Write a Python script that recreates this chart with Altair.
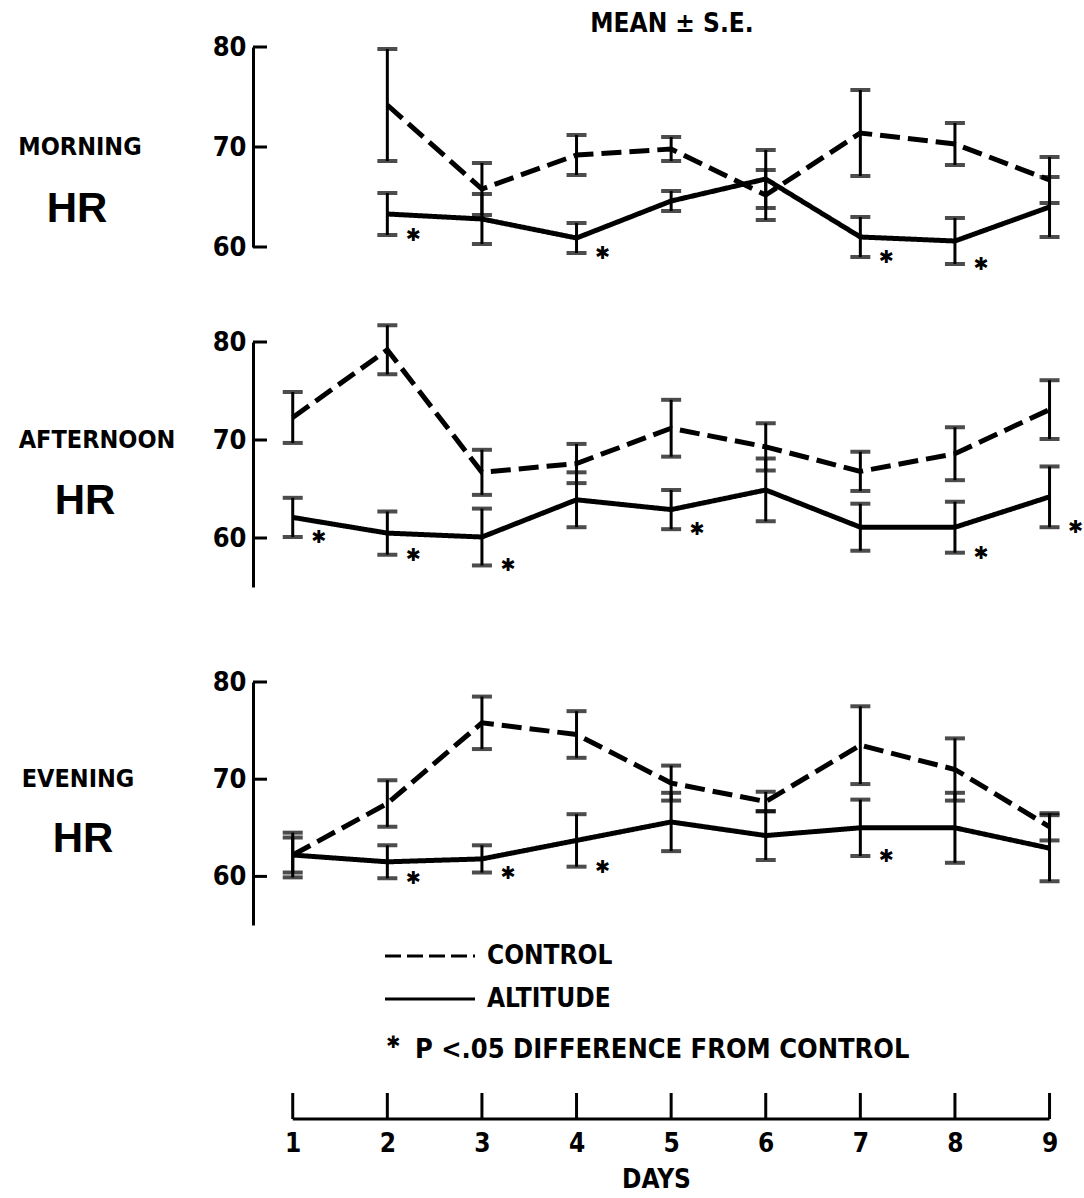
import altair as alt
import pandas as pd

days = [1, 2, 3, 4, 5, 6, 7, 8, 9]
series_names = ["CONTROL", "ALTITUDE"]
y_ticks = [60, 70, 80]

# MORNING
morning_control_mean = [None, 74.2, 65.8, 69.2, 69.8, 65.2, 71.4, 70.3, 66.7]
morning_control_se = [None, 5.6, 2.6, 2.0, 1.2, 2.5, 4.3, 2.1, 2.3]
morning_altitude_mean = [None, 63.3, 62.8, 60.9, 64.6, 66.8, 61.0, 60.6, 64.0]
morning_altitude_se = [None, 2.1, 2.5, 1.5, 1.0, 2.9, 2.0, 2.3, 3.0]
morning_sig_days = [2, 4, 7, 8]

# AFTERNOON
afternoon_control_mean = [72.3, 79.2, 66.7, 67.6, 71.2, 69.3, 66.8, 68.6, 73.1]
afternoon_control_se = [2.6, 2.5, 2.3, 2.0, 2.9, 2.4, 2.0, 2.7, 3.0]
afternoon_altitude_mean = [62.1, 60.5, 60.1, 63.9, 62.9, 64.9, 61.1, 61.1, 64.2]
afternoon_altitude_se = [2.0, 2.2, 2.9, 2.8, 2.0, 3.2, 2.4, 2.6, 3.1]
afternoon_sig_days = [1, 2, 3, 5, 8, 9]

# EVENING
evening_control_mean = [62.2, 67.5, 75.8, 74.6, 69.6, 67.7, 73.5, 71.0, 65.1]
evening_control_se = [2.3, 2.4, 2.7, 2.4, 1.8, 1.0, 4.0, 3.2, 1.4]
evening_altitude_mean = [62.2, 61.5, 61.8, 63.7, 65.6, 64.2, 65.0, 65.0, 62.9]
evening_altitude_se = [1.8, 1.7, 1.4, 2.7, 3.0, 2.5, 2.9, 3.6, 3.4]
evening_sig_days = [2, 3, 4, 7]

legend_labels = ["CONTROL", "ALTITUDE", "P <.05 DIFFERENCE FROM CONTROL"]

COND = "DejaVu Sans Condensed, DejaVu Sans, sans-serif"
ARIAL = "Liberation Sans, Arial, sans-serif"
STAR = "✱"
W = 806
X_DOMAIN = [0.58, 9.1]
xscale = alt.Scale(domain=X_DOMAIN, nice=False, zero=False)


def panel(name, cm, cs, am, a_se, sig, ymin, height, name_x, hr_x, extra=None):
    rows = []
    for sname, m, s in [("CONTROL", cm, cs), ("ALTITUDE", am, a_se)]:
        for d, mv, sv in zip(days, m, s):
            if mv is None:
                continue
            rows.append(dict(day=d, series=sname, mean=mv, lo=mv - sv, hi=mv + sv))
    df = pd.DataFrame(rows)
    sig_df = df[(df.series == "ALTITUDE") & (df.day.isin(sig))]

    yscale = alt.Scale(domain=[ymin, 80], nice=False, zero=False)
    yaxis = alt.Axis(values=y_ticks, tickSize=0, domain=True, domainWidth=3,
                     domainColor="black", labelFont=COND, labelFontSize=27,
                     labelFontWeight="bold", labelColor="black", labelPadding=7,
                     grid=False, title=None)
    X = alt.X("day:Q", scale=xscale, axis=None)

    base = alt.Chart(df)
    lines = base.mark_line(color="black", strokeWidth=5).encode(
        x=X,
        y=alt.Y("mean:Q", scale=yscale, axis=yaxis),
        strokeDash=alt.StrokeDash("series:N",
                                  scale=alt.Scale(domain=series_names,
                                                  range=[[20, 8], [1, 0]]),
                                  legend=None),
        detail="series:N",
    )
    bars = base.mark_rule(color="black", strokeWidth=3).encode(
        x=X, y=alt.Y("lo:Q", scale=yscale, axis=yaxis), y2="hi:Q")
    cap_lo = base.mark_tick(color="black", thickness=4, size=20,
                            orient="horizontal").encode(
        x=X, y=alt.Y("lo:Q", scale=yscale, axis=yaxis))
    cap_hi = base.mark_tick(color="black", thickness=4, size=20,
                            orient="horizontal").encode(
        x=X, y=alt.Y("hi:Q", scale=yscale, axis=yaxis))
    stars = alt.Chart(sig_df).mark_text(text=STAR, dx=26, dy=1, fontSize=18,
                                        fontWeight="bold", baseline="middle",
                                        font="DejaVu Sans", color="black").encode(
        x=X, y=alt.Y("lo:Q", scale=yscale, axis=yaxis))
    ticks = alt.Chart(pd.DataFrame({"v": y_ticks})).mark_rule(
        color="black", strokeWidth=3).encode(
        y=alt.Y("v:Q", scale=yscale, axis=yaxis),
        x=alt.value(0), x2=alt.value(14))
    lab = alt.Chart(pd.DataFrame({"t": [name], "v": [70]})).mark_text(
        font=COND, fontSize=25, fontWeight="bold", color="black",
        align="center", baseline="middle").encode(
        x=alt.value(name_x), y=alt.Y("v:Q", scale=yscale, axis=yaxis), text="t:N")
    hr = alt.Chart(pd.DataFrame({"t": ["HR"], "v": [63.8]})).mark_text(
        font=ARIAL, fontSize=42, fontWeight="bold", color="black",
        align="center", baseline="middle").encode(
        x=alt.value(hr_x), y=alt.Y("v:Q", scale=yscale, axis=yaxis), text="t:N")
    layers = [ticks, bars, cap_lo, cap_hi, lines, stars, lab, hr]
    if extra is not None:
        layers.append(extra)
    return alt.layer(*layers).properties(width=W, height=height)


title_chart = alt.Chart(pd.DataFrame({"t": ["MEAN ± S.E."]})).mark_text(
    font=COND, fontSize=26, fontWeight="bold", color="black",
    align="center", baseline="middle").encode(
    x=alt.value(419), y=alt.value(-23), text="t:N")

morning = panel("MORNING", morning_control_mean, morning_control_se,
                morning_altitude_mean, morning_altitude_se, morning_sig_days,
                60, 200, -173, -176, extra=title_chart)
afternoon = panel("AFTERNOON", afternoon_control_mean, afternoon_control_se,
                  afternoon_altitude_mean, afternoon_altitude_se, afternoon_sig_days,
                  55, 245, -156, -168)
evening = panel("EVENING", evening_control_mean, evening_control_se,
                evening_altitude_mean, evening_altitude_se, evening_sig_days,
                55, 243, -175, -170)

# bottom panel: legend + days axis
H = 99
xaxis = alt.Axis(values=days, domain=False, ticks=False, labelPadding=11,
                 labelFont=COND, labelFontSize=26, labelFontWeight="bold",
                 labelColor="black", format="d", grid=False, title="DAYS",
                 titleFont=COND, titleFontSize=26, titleFontWeight="bold",
                 titleColor="black", titlePadding=10)
XB = alt.X("day:Q", scale=xscale, axis=xaxis)
day_df = pd.DataFrame({"day": days})
axis_line = alt.Chart(pd.DataFrame({"day": [days[0]], "end": [days[-1]]})).mark_rule(
    color="black", strokeWidth=3).encode(x=XB, x2="end:Q", y=alt.value(H))
axis_ticks = alt.Chart(day_df).mark_rule(color="black", strokeWidth=3).encode(
    x=XB, y=alt.value(H - 26), y2=alt.value(H))

leg_df = pd.DataFrame({"label": legend_labels})
leg_dash = alt.Chart(leg_df.iloc[[0]]).mark_rule(
    color="black", strokeWidth=3, strokeDash=[16, 6]).encode(
    x=alt.value(132), x2=alt.value(222), y=alt.value(-64), detail="label:N")
leg_solid = alt.Chart(leg_df.iloc[[1]]).mark_rule(
    color="black", strokeWidth=3).encode(
    x=alt.value(132), x2=alt.value(222), y=alt.value(-21), detail="label:N")
leg_t1 = alt.Chart(leg_df.iloc[[0]]).mark_text(
    font=COND, fontSize=26, fontWeight="bold", color="black",
    align="left", baseline="middle").encode(
    x=alt.value(234), y=alt.value(-64), text="label:N")
leg_t2 = alt.Chart(leg_df.iloc[[1]]).mark_text(
    font=COND, fontSize=26, fontWeight="bold", color="black",
    align="left", baseline="middle").encode(
    x=alt.value(234), y=alt.value(-21), text="label:N")
leg_t3 = alt.Chart(leg_df.iloc[[2]]).mark_text(
    font=COND, fontSize=27, fontWeight="bold", color="black",
    align="left", baseline="middle").encode(
    x=alt.value(162), y=alt.value(30), text="label:N")
leg_star = alt.Chart(leg_df.iloc[[2]]).mark_text(
    text=STAR, font="DejaVu Sans", fontSize=17, fontWeight="bold", color="black",
    align="center", baseline="middle").encode(
    x=alt.value(140), y=alt.value(23), detail="label:N")

bottom = alt.layer(axis_line, axis_ticks, leg_dash, leg_solid, leg_t1, leg_t2,
                   leg_t3, leg_star).properties(width=W, height=H)

chart = alt.vconcat(morning, afternoon, evening, bottom, spacing=95,
                    bounds="flush").properties(
    padding={"left": 18, "top": 11, "right": 0, "bottom": 0},
    background="white",
).configure_view(stroke=None)

chart.save("out.html", embed_options={"renderer": "svg", "actions": False})
